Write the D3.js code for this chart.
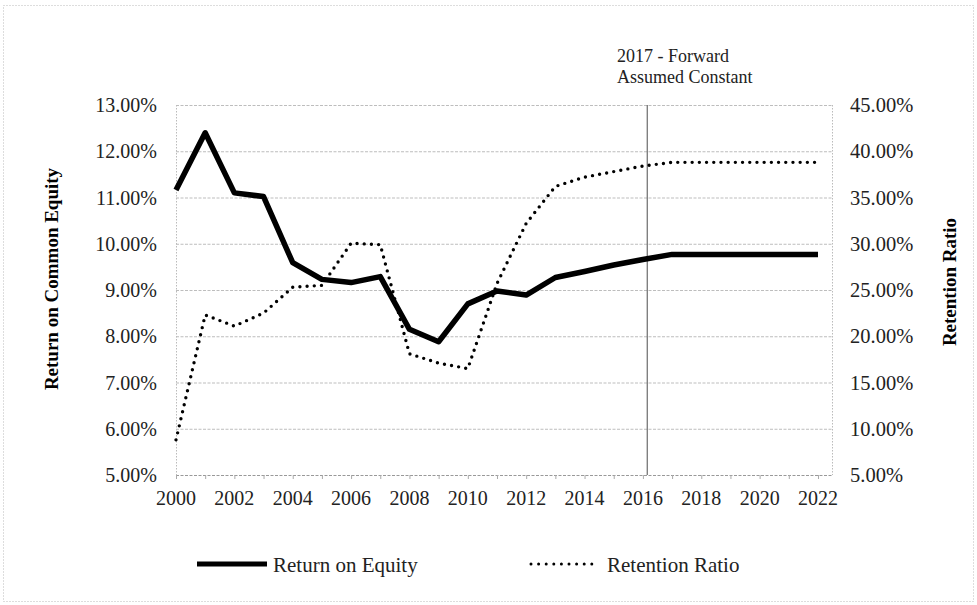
<!DOCTYPE html>
<html><head><meta charset="utf-8">
<script src="https://cdn.jsdelivr.net/npm/d3@7"></script>
<style>body{margin:0;background:#fff}svg{display:block}text{font-family:"Liberation Serif","Times New Roman",serif;fill:#222}</style>
</head><body>
<svg id="c" width="977" height="605"></svg>
<script>
const years = d3.range(2000, 2023);
const roe = [11.16,12.40,11.10,11.02,9.59,9.23,9.16,9.29,8.15,7.88,8.70,8.98,8.89,9.27,9.40,9.54,9.66,9.77,9.77,9.77,9.77,9.77,9.77];
const retention = [8.8,22.3,21.1,22.5,25.3,25.5,30.05,29.9,18.1,17.1,16.5,25.7,32.2,36.2,37.2,37.8,38.4,38.8,38.8,38.8,38.8,38.8,38.8];
const leftTicks = [5,6,7,8,9,10,11,12,13];
const rightTicks = [5,10,15,20,25,30,35,40,45];
const xTicks = [2000,2002,2004,2006,2008,2010,2012,2014,2016,2018,2020,2022];
const forwardYear = 2016.15;
const annotation = ["2017 - Forward","Assumed Constant"];
const seriesNames = ["Return on Equity","Retention Ratio"];

const svg = d3.select("#c");
const L=176,R=832,T=105,B=475;
const x = d3.scaleLinear().domain([2000,2022.48]).range([L,R]);
const yL = d3.scaleLinear().domain([5,13]).range([B,T]);
const yR = d3.scaleLinear().domain([5,45]).range([B,T]);

// outer dotted border
svg.append("rect").attr("x",3.5).attr("y",5.5).attr("width",970).attr("height",596)
  .attr("fill","none").attr("stroke","#bbb").attr("stroke-dasharray","1 2");

// gridlines
svg.append("g").selectAll("line").data(leftTicks).join("line")
  .attr("x1",L).attr("x2",R).attr("y1",d=>yL(d)+0.5).attr("y2",d=>yL(d)+0.5)
  .attr("stroke",d=>d===5?"#999":"#bdbdbd").attr("stroke-dasharray","3 1.5").attr("stroke-width",1);
// side borders
[L,R].forEach(xx=>svg.append("line").attr("x1",xx+0.5).attr("x2",xx+0.5).attr("y1",T).attr("y2",B)
  .attr("stroke","#bbb").attr("stroke-dasharray","1.5 1.5"));
// x ticks each year
svg.append("g").selectAll("line").data(years).join("line")
  .attr("x1",d=>x(d)+0.5).attr("x2",d=>x(d)+0.5).attr("y1",B).attr("y2",B+4).attr("stroke","#aaa");
// forward vertical line
svg.append("line").attr("x1",x(forwardYear)).attr("x2",x(forwardYear)).attr("y1",T).attr("y2",B)
  .attr("stroke","#777").attr("stroke-width",1.3);

// axes labels
svg.append("g").selectAll("text").data(leftTicks).join("text")
  .attr("x",157).attr("y",d=>yL(d)).attr("dy","0.35em").attr("text-anchor","end")
  .attr("font-size",20).text(d=>d3.format(".2f")(d)+"%");
svg.append("g").selectAll("text").data(rightTicks).join("text")
  .attr("x",850).attr("y",d=>yR(d)).attr("dy","0.35em").attr("text-anchor","start")
  .attr("font-size",20.5).text(d=>d3.format(".2f")(d)+"%");
svg.append("g").selectAll("text").data(xTicks).join("text")
  .attr("x",d=>x(d)).attr("y",505).attr("text-anchor","middle")
  .attr("font-size",20).text(d=>d);

// axis titles
svg.append("text").attr("transform","translate(58,279) rotate(-90)").attr("text-anchor","middle")
  .attr("font-size",19).attr("font-weight","bold").style("fill","#000").text("Return on Common Equity");
svg.append("text").attr("transform","translate(956,282) rotate(-90)").attr("text-anchor","middle")
  .attr("font-size",19).attr("font-weight","bold").style("fill","#000").text("Retention Ratio");

// annotation
svg.append("g").selectAll("text").data(annotation).join("text")
  .attr("x",617).attr("y",(d,i)=>62+i*21).attr("font-size",18).text(d=>d);

// lines
const lineL = d3.line().x((d,i)=>x(years[i])).y(d=>yL(d));
const lineR = d3.line().x((d,i)=>x(years[i])).y(d=>yR(d));
svg.append("path").datum(retention).attr("d",lineR).attr("fill","none").attr("stroke","#000")
  .attr("stroke-width",3.4).attr("stroke-linecap","round").attr("stroke-dasharray","0 7.2");
svg.append("path").datum(roe).attr("d",lineL).attr("fill","none").attr("stroke","#000")
  .attr("stroke-width",5.5).attr("stroke-linejoin","round");

// legend
svg.append("line").attr("x1",197).attr("x2",267).attr("y1",564).attr("y2",564).attr("stroke","#000").attr("stroke-width",5);
svg.append("text").attr("x",273).attr("y",565).attr("dy","0.35em").attr("font-size",21).text(seriesNames[0]);
svg.append("line").attr("x1",531).attr("x2",592).attr("y1",564).attr("y2",564).attr("stroke","#000")
  .attr("stroke-width",3).attr("stroke-linecap","round").attr("stroke-dasharray","0 7.6");
svg.append("text").attr("x",607).attr("y",565).attr("dy","0.35em").attr("font-size",21).text(seriesNames[1]);
</script>
</body></html>
